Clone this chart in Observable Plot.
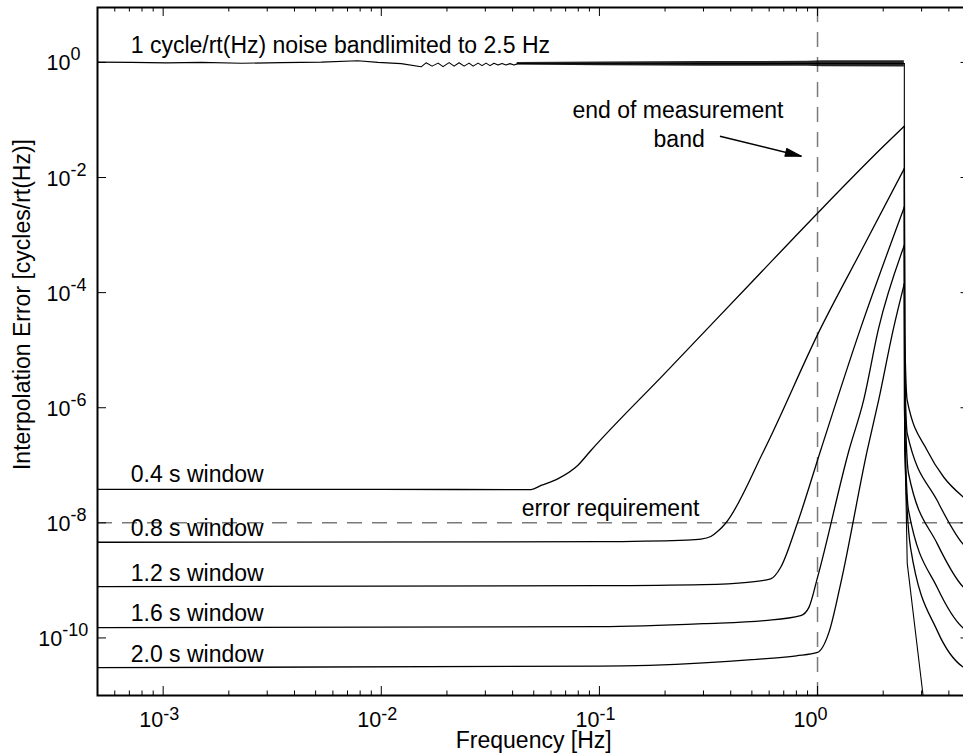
<!DOCTYPE html>
<html>
<head>
<meta charset="utf-8">
<script src="https://cdn.jsdelivr.net/npm/d3@7"></script>
<script src="https://cdn.jsdelivr.net/npm/@observablehq/plot@0.6"></script>
<style>
  html, body { margin: 0; padding: 0; background: #fff; overflow: hidden; }
  #chart svg { display: block; }
</style>
</head>
<body>
<div id="chart"></div>
<script>
// ---------- data ----------
// noise input, 1 cycle/rt(Hz) band-limited to 2.5 Hz
const noiseFreq = [5.0e-4, 7.16e-4, 1.035e-3, 1.5e-3, 2.28e-3, 3.48e-3, 5.31e-3, 7.81e-3, 9.65e-3, 0.01234,
  0.01523, 0.01605, 0.0171, 0.01822, 0.0192, 0.02046, 0.02157, 0.02274, 0.02397, 0.02527, 0.02636,
  0.02778, 0.02897, 0.03022, 0.03151, 0.03287, 0.03428, 0.03577, 0.0373, 0.0389, 0.04059, 0.04233, 0.06, 0.2, 0.9, 1.05, 2.5];
const noiseErr = [1.012, 1.0, 0.98, 1.0, 0.965, 0.99, 1.01, 1.066, 1.0, 0.953,
  0.839, 0.984, 0.862, 0.972, 0.845, 0.992, 0.862, 0.984, 0.862, 0.972, 0.862,
  0.972, 0.88, 0.972, 0.88, 0.965, 0.898, 0.961, 0.898, 0.953, 0.898, 0.953, 0.95, 0.95, 0.955, 0.955, 0.955];
// dense noise band (low / high envelope) above 0.04 Hz
const fuzzFreq = [0.042, 0.1, 0.3, 0.9, 1.05, 2.5];
const fuzzLow  = [0.905, 0.875, 0.862, 0.855, 0.84, 0.835];
const fuzzHigh = [0.995, 1.02, 1.035, 1.045, 1.07, 1.07];
// roll-off of the noise above 2.5 Hz
const noiseDropFreq = [2.5, 2.5, 2.577, 3.04, 3.2];
const noiseDropErr  = [0.955, 1e-6, 2.0e-9, 1.07e-11, 1e-12];

// interpolation error, up to the band edge
const w04Freq = [5e-4, 0.01, 0.0486, 0.054, 0.0644, 0.0795, 0.0914, 0.2, 0.5, 1.0, 2.0, 2.5];
const w04Err  = [3.8e-8, 3.8e-8, 3.79e-8, 4.46e-8, 5.82e-8, 9.93e-8, 1.81e-7, 4.0e-6, 1.53e-4, 2.4e-3, 3.45e-2, 7.8e-2];
const w08Freq = [5e-4, 0.1, 0.25, 0.292, 0.324, 0.352, 0.379, 0.568, 1.033, 1.575, 2.5];
const w08Err  = [4.6e-9, 4.7e-9, 5.0e-9, 5.2e-9, 5.78e-9, 7.35e-9, 9.85e-9, 1.81e-7, 2.39e-5, 5.08e-4, 1.435e-2];
const w12Freq = [5e-4, 0.1, 0.3, 0.477, 0.61, 0.678, 0.808, 1.033, 1.575, 2.5];
const w12Err  = [7.8e-10, 8.1e-10, 8.45e-10, 9.27e-10, 1.06e-9, 1.69e-9, 9.85e-9, 1.81e-7, 2.39e-5, 3.08e-3];
const w16Freq = [5e-4, 0.1, 0.3, 0.57, 0.837, 0.913, 1.0, 1.393, 1.626, 1.905, 2.5];
const w16Err  = [1.51e-10, 1.57e-10, 1.77e-10, 2.0e-10, 2.44e-10, 3.4e-10, 1.13e-9, 1.81e-7, 1.34e-6, 2.39e-5, 6.65e-4];
const w20Freq = [5e-4, 0.1, 0.3, 0.5, 0.8, 1.0, 1.128, 1.276, 1.69, 1.905, 2.23, 2.5];
const w20Err  = [3.04e-11, 3.23e-11, 3.7e-11, 4.2e-11, 4.9e-11, 5.6e-11, 1.25e-10, 8.7e-10, 1.81e-7, 1.34e-6, 2.39e-5, 1.43e-4];

// interpolation error above the band edge
const w04HiFreq = [2.5, 2.51, 2.577, 3.183, 3.792, 4.667, 5.0];
const w04HiErr  = [7.8e-2, 2.2e-5, 1.34e-6, 1.81e-7, 6.2e-8, 2.79e-8, 2.25e-8];
const w08HiFreq = [2.5, 2.51, 2.577, 3.537, 4.667, 5.0];
const w08HiErr  = [1.435e-2, 6.6e-6, 3.57e-7, 2.44e-8, 4.2e-9, 3.3e-9];
const w12HiFreq = [2.5, 2.51, 2.613, 3.537, 4.667, 5.0];
const w12HiErr  = [3.08e-3, 2.0e-6, 7.2e-8, 4.36e-9, 7.6e-10, 6.1e-10];
const w16HiFreq = [2.5, 2.51, 2.613, 3.537, 4.667, 5.0];
const w16HiErr  = [6.65e-4, 5.8e-7, 1.64e-8, 7.5e-10, 1.47e-10, 1.24e-10];
const w20HiFreq = [2.5, 2.51, 2.669, 3.537, 4.667, 5.0];
const w20HiErr  = [1.43e-4, 1.8e-7, 3.72e-9, 1.34e-10, 3.08e-11, 2.7e-11];

// reference lines
const errorRequirement = [1e-8];
const measurementBandEnd = [1];

// axis ticks
const xMajorTicks = [1e-3, 1e-2, 1e-1, 1];
const xTickExponents = ["-3", "-2", "-1", "0"];
const xMinorTicks = [6e-4, 7e-4, 8e-4, 9e-4,
  2e-3, 3e-3, 4e-3, 5e-3, 6e-3, 7e-3, 8e-3, 9e-3,
  2e-2, 3e-2, 4e-2, 5e-2, 6e-2, 7e-2, 8e-2, 9e-2,
  0.2, 0.3, 0.4, 0.5, 0.6, 0.7, 0.8, 0.9, 2, 3, 4];
const yMajorTicks = [1, 1e-2, 1e-4, 1e-6, 1e-8, 1e-10];
const yTickExponents = ["0", "-2", "-4", "-6", "-8", "-10"];

// annotations
const windowLabels = ["0.4 s window", "0.8 s window", "1.2 s window", "1.6 s window", "2.0 s window"];
const windowLabelFreq = [7.1e-4, 7.1e-4, 7.1e-4, 7.1e-4, 7.1e-4];
const windowLabelErr = [5.08e-8, 6.0e-9, 9.9e-10, 2.0e-10, 3.87e-11];
const noteTexts = ["1 cycle/rt(Hz) noise bandlimited to 2.5 Hz", "error requirement"];
const noteFreq = [7.1e-4, 0.044];
const noteErr = [1.48, 1.34e-8];
const bandTexts = ["end of measurement", "band"];
const bandTextFreq = [0.229, 0.232];
const bandTextErr = [0.1062, 0.0342];
const arrowFrom = {f: 0.357, e: 0.0523};
const arrowTo = {f: 0.843, e: 0.0235};

// ---------- build ----------
const rows = (fs, es) => fs.map((f, i) => ({f, e: es[i]}));
const FONT = "'Liberation Sans', Arial, Helvetica, sans-serif";
const lineStyle = {x: "f", y: "e", stroke: "black", strokeWidth: 1.3, clip: true};

const windowSeries = [[w04Freq, w04Err], [w08Freq, w08Err], [w12Freq, w12Err], [w16Freq, w16Err], [w20Freq, w20Err]];
const windowHiSeries = [[w04HiFreq, w04HiErr], [w08HiFreq, w08HiErr], [w12HiFreq, w12HiErr], [w16HiFreq, w16HiErr], [w20HiFreq, w20HiErr]];

const frameH = 755 - 7 - 60;
const frameW = 963 + 6.5 - 97;

const yShort = yMajorTicks.filter((d, i) => yTickExponents[i].length <= 2);
const yLong = yMajorTicks.filter((d, i) => yTickExponents[i].length > 2);
const expOf = d => yTickExponents[yMajorTicks.indexOf(d)];

const chart = Plot.plot({
  width: 963,
  height: 755,
  marginLeft: 97,
  marginRight: -6.5,
  marginTop: 7,
  marginBottom: 60,
  x: {type: "log", domain: [5e-4, 5], axis: null},
  y: {type: "log", domain: [1e-11, 9], axis: null},
  style: {fontFamily: FONT, background: "white", color: "black", overflow: "hidden"},
  marks: [
    // reference lines
    Plot.ruleY(errorRequirement, {y: d => d, stroke: "#7a7a7a", strokeWidth: 1.5, strokeDasharray: "15,10"}),
    Plot.ruleX(measurementBandEnd, {x: d => d, stroke: "#7a7a7a", strokeWidth: 1.5, strokeDasharray: "15,10"}),
    // noise
    Plot.areaY(fuzzFreq.map((f, i) => ({f, lo: fuzzLow[i], hi: fuzzHigh[i]})), {x: "f", y1: "lo", y2: "hi", fill: "black", fillOpacity: 0.85}),
    Plot.line(rows(noiseFreq, noiseErr), {...lineStyle, strokeWidth: 1.1}),
    Plot.line(rows(noiseDropFreq, noiseDropErr), {...lineStyle, strokeWidth: 1.1}),
    // window curves
    ...windowSeries.map(([fs, es]) => Plot.line(rows(fs, es), {...lineStyle, curve: "monotone-x"})),
    ...windowHiSeries.map(([fs, es]) => Plot.line(rows(fs, es), {...lineStyle, curve: "monotone-x"})),
    // frame and ticks
    Plot.frame({stroke: "black", strokeWidth: 2}),
    Plot.tickX(xMajorTicks, {x: d => d, stroke: "black", strokeWidth: 1, insetTop: frameH - 9}),
    Plot.tickX(xMajorTicks, {x: d => d, stroke: "black", strokeWidth: 1, insetBottom: frameH - 9}),
    Plot.tickX(xMinorTicks, {x: d => d, stroke: "black", strokeWidth: 1, insetTop: frameH - 4.5}),
    Plot.tickX(xMinorTicks, {x: d => d, stroke: "black", strokeWidth: 1, insetBottom: frameH - 4.5}),
    Plot.tickY(yMajorTicks, {y: d => d, stroke: "black", strokeWidth: 1, insetRight: frameW - 9}),
    Plot.tickY(yMajorTicks, {y: d => d, stroke: "black", strokeWidth: 1, insetLeft: frameW - 9}),
    // tick labels
    Plot.text(xMajorTicks, {x: d => d, frameAnchor: "bottom", text: () => "10", textAnchor: "end", lineAnchor: "bottom", dy: 31, fontSize: 21.5}),
    Plot.text(xMajorTicks, {x: d => d, frameAnchor: "bottom", text: (d, i) => xTickExponents[i], textAnchor: "start", lineAnchor: "bottom", dy: 24, fontSize: 18}),
    Plot.text(yShort, {y: d => d, frameAnchor: "left", text: () => "10", textAnchor: "end", lineAnchor: "bottom", dx: -27, dy: 8, fontSize: 21.5}),
    Plot.text(yShort, {y: d => d, frameAnchor: "left", text: expOf, textAnchor: "start", lineAnchor: "bottom", dx: -27, dy: -2, fontSize: 18}),
    Plot.text(yLong, {y: d => d, frameAnchor: "left", text: () => "10", textAnchor: "end", lineAnchor: "bottom", dx: -35.3, dy: 8, fontSize: 21.5}),
    Plot.text(yLong, {y: d => d, frameAnchor: "left", text: expOf, textAnchor: "start", lineAnchor: "bottom", dx: -35.3, dy: -2, fontSize: 18}),
    // axis titles
    Plot.text(["Frequency [Hz]"], {frameAnchor: "bottom", text: d => d, textAnchor: "middle", lineAnchor: "bottom", dy: 52, fontSize: 23}),
    Plot.text(["Interpolation Error [cycles/rt(Hz)]"], {frameAnchor: "left", text: d => d, textAnchor: "middle", rotate: -90, lineAnchor: "bottom", dx: -67.5, dy: -47, fontSize: 23}),
    // annotations
    Plot.text(windowLabels, {x: (d, i) => windowLabelFreq[i], y: (d, i) => windowLabelErr[i], text: d => d, textAnchor: "start", lineAnchor: "bottom", fontSize: 23}),
    Plot.text(noteTexts, {x: (d, i) => noteFreq[i], y: (d, i) => noteErr[i], text: d => d, textAnchor: "start", lineAnchor: "bottom", fontSize: 23}),
    Plot.text(bandTexts, {x: (d, i) => bandTextFreq[i], y: (d, i) => bandTextErr[i], text: d => d, textAnchor: "middle", lineAnchor: "bottom", fontSize: 23}),
    Plot.link([0], {x1: () => arrowFrom.f, y1: () => arrowFrom.e, x2: () => arrowTo.f, y2: () => arrowTo.e, stroke: "black", strokeWidth: 1.5}),
    Plot.vector([0], {
      x: () => arrowTo.f, y: () => arrowTo.e, rotate: 103.8, length: 16, anchor: "start",
      stroke: "black", fill: "black", strokeWidth: 1,
      shape: {draw(ctx, l, r) { ctx.moveTo(0, 0); ctx.lineTo(-4, l); ctx.lineTo(4, l); ctx.closePath(); }}
    })
  ]
});
document.getElementById("chart").appendChild(chart);
</script>
</body>
</html>
